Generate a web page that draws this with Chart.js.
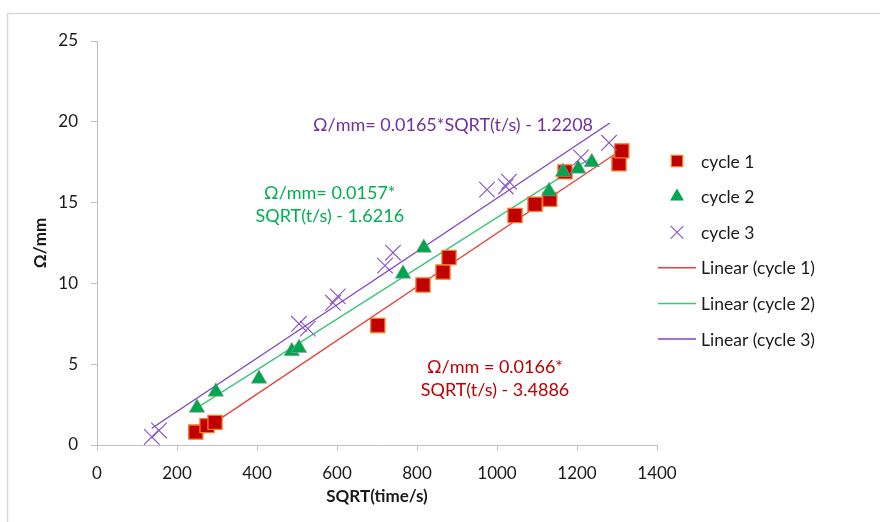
<!DOCTYPE html>
<html>
<head>
<meta charset="utf-8">
<script src="https://cdn.jsdelivr.net/npm/chart.js@4/dist/chart.umd.min.js"></script>
<style>
  html, body { margin: 0; padding: 0; background: #fff; }
  #wrap { width: 880px; height: 522px; }
</style>
</head>
<body>
<div id="wrap"><canvas id="myChart" width="880" height="522"></canvas></div>
<script>
// data
var cycle1X = [247, 275, 295, 702, 815, 865, 880, 1045, 1095, 1132, 1170, 1305, 1312];
var cycle1Y = [0.8, 1.2, 1.4, 7.4, 9.9, 10.7, 11.6, 14.2, 14.9, 15.2, 16.9, 17.4, 18.2];

var cycle2X = [250, 297, 405, 487, 505, 765, 817, 1130, 1165, 1203, 1237];
var cycle2Y = [2.3, 3.3, 4.1, 5.8, 6.0, 10.6, 12.2, 15.7, 16.9, 17.1, 17.5];

var cycle3X = [137, 155, 505, 527, 590, 602, 720, 740, 975, 1022, 1030, 1210, 1280];
var cycle3Y = [0.5, 0.9, 7.5, 7.2, 8.8, 9.2, 11.1, 11.9, 15.8, 16.0, 16.3, 17.8, 18.7];

// trendline end points
var trend1X = [247, 1312];
var trend1Y = [0.61, 18.29];
var trend2X = [250, 1237];
var trend2Y = [2.30, 17.80];
var trend3X = [137, 1282];
var trend3Y = [1.04, 19.93];

var seriesNames = ["cycle 1", "cycle 2", "cycle 3", "Linear (cycle 1)", "Linear (cycle 2)", "Linear (cycle 3)"];
var xTicks = [0, 200, 400, 600, 800, 1000, 1200, 1400];
var yTicks = [0, 5, 10, 15, 20, 25];

var eqText = [
    { x: 890, y: 19.8, lines: ["\u03A9/mm= 0.0165*SQRT(t/s) - 1.2208"], color: "#7030a0" },
    { x: 582, y: 14.85, lines: ["\u03A9/mm= 0.0157*", "SQRT(t/s) - 1.6216"], color: "#00b050" },
    { x: 995, y: 4.1, lines: ["\u03A9/mm = 0.0166*", "SQRT(t/s) - 3.4886"], color: "#c00000" }
];

function pts(xs, ys) {
    return xs.map(function (v, i) { return { x: v, y: ys[i] }; });
}

var FONT = "Lato, 'Open Sans', 'DejaVu Sans', sans-serif";

function drawMarker(ctx, style, x, y, r) {
    ctx.beginPath();
    if (style === 'rect') {
        var s = Math.SQRT1_2 * r;
        ctx.rect(x - s, y - s, 2 * s, 2 * s);
        ctx.fill();
        ctx.stroke();
    } else if (style === 'triangle') {
        ctx.moveTo(x, y - r);
        ctx.lineTo(x + r * 0.866, y + r * 0.5);
        ctx.lineTo(x - r * 0.866, y + r * 0.5);
        ctx.closePath();
        ctx.fill();
    } else if (style === 'crossRot') {
        var c = r * Math.SQRT1_2;
        ctx.moveTo(x - c, y - c); ctx.lineTo(x + c, y + c);
        ctx.moveTo(x - c, y + c); ctx.lineTo(x + c, y - c);
        ctx.stroke();
    }
}

var framePlugin = {
    id: 'frame',
    beforeDraw: function (chart) {
        var ctx = chart.ctx;
        ctx.save();
        ctx.fillStyle = '#fff';
        ctx.fillRect(0, 0, chart.width, chart.height);
        ctx.strokeStyle = '#d9d9d9';
        ctx.lineWidth = 1.5;
        ctx.beginPath();
        ctx.moveTo(7.5, chart.height);
        ctx.lineTo(7.5, 13.5);
        ctx.lineTo(chart.width, 13.5);
        ctx.stroke();
        ctx.restore();
    }
};

var eqPlugin = {
    id: 'equations',
    afterDatasetsDraw: function (chart) {
        var ctx = chart.ctx, xs = chart.scales.x, ys = chart.scales.y;
        ctx.save();
        ctx.font = "18px " + FONT;
        ctx.textAlign = 'center';
        ctx.textBaseline = 'middle';
        eqText.forEach(function (e) {
            var px = xs.getPixelForValue(e.x), py = ys.getPixelForValue(e.y);
            var top = py - (e.lines.length - 1) * 23 / 2;
            ctx.fillStyle = e.color;
            e.lines.forEach(function (t, i) { ctx.fillText(t, px, top + i * 23); });
        });
        ctx.restore();
    }
};

var legendPlugin = {
    id: 'sideLegend',
    afterDraw: function (chart) {
        var ctx = chart.ctx;
        ctx.save();
        ctx.font = "17.5px " + FONT;
        ctx.textAlign = 'left';
        ctx.textBaseline = 'middle';
        chart.data.datasets.forEach(function (ds, i) {
            var y = 161 + i * 35.6;
            if (ds.showLine) {
                ctx.strokeStyle = ds.borderColor;
                ctx.lineWidth = 1.5;
                ctx.beginPath();
                ctx.moveTo(658, y);
                ctx.lineTo(696, y);
                ctx.stroke();
            } else {
                ctx.fillStyle = ds.backgroundColor;
                ctx.strokeStyle = ds.borderColor;
                ctx.lineWidth = ds.borderWidth;
                drawMarker(ctx, ds.pointStyle, 677, y, ds.pointStyle === 'crossRot' ? 9 : 8);
            }
            ctx.fillStyle = '#1a1a1a';
            ctx.fillText(ds.label, 701, y + 1);
        });
        ctx.restore();
    }
};

var ctx = document.getElementById("myChart");
var myChart = new Chart(ctx, {
    type: 'scatter',
    data: {
        datasets: [
            {
                label: seriesNames[0],
                data: pts(cycle1X, cycle1Y),
                pointStyle: 'rect',
                pointRadius: 10,
                backgroundColor: '#c00000',
                borderColor: '#f57a22',
                borderWidth: 1.3,
                order: 3
            },
            {
                label: seriesNames[1],
                data: pts(cycle2X, cycle2Y),
                pointStyle: 'triangle',
                pointRadius: 9,
                backgroundColor: '#00a550',
                borderColor: 'rgba(160,160,160,0.6)',
                borderWidth: 1,
                order: 2
            },
            {
                label: seriesNames[2],
                data: pts(cycle3X, cycle3Y),
                pointStyle: 'crossRot',
                pointRadius: 11,
                backgroundColor: '#8a5ccc',
                borderColor: '#8a5ccc',
                borderWidth: 1.2,
                order: 1
            },
            {
                label: seriesNames[3],
                data: pts(trend1X, trend1Y),
                showLine: true,
                pointRadius: 0,
                borderColor: '#e8403a',
                borderWidth: 1.3,
                order: 4
            },
            {
                label: seriesNames[4],
                data: pts(trend2X, trend2Y),
                showLine: true,
                pointRadius: 0,
                borderColor: '#3cc47a',
                borderWidth: 1.3,
                order: 5
            },
            {
                label: seriesNames[5],
                data: pts(trend3X, trend3Y),
                showLine: true,
                pointRadius: 0,
                borderColor: '#7e44c2',
                borderWidth: 1.3,
                order: 6
            }
        ]
    },
    options: {
        responsive: false,
        animation: false,
        layout: { padding: { left: 0, top: 41, right: 223, bottom: 0 } },
        plugins: {
            legend: { display: false },
            tooltip: { enabled: false }
        },
        scales: {
            x: {
                type: 'linear',
                min: xTicks[0],
                max: xTicks[xTicks.length - 1],
                afterBuildTicks: function (scale) {
                    scale.ticks = xTicks.map(function (v) { return { value: v }; });
                },
                afterFit: function (scale) { scale.height = 77; },
                ticks: {
                    color: '#1a1a1a',
                    font: { family: FONT, size: 17 },
                    padding: 12,
                    maxRotation: 0,
                    callback: function (v) { return String(v); }
                },
                grid: { drawOnChartArea: false, drawTicks: true, tickLength: 6, color: '#bfbfbf' },
                border: { color: '#bfbfbf', width: 1 },
                title: {
                    display: true,
                    text: 'SQRT(time/s)',
                    color: '#1a1a1a',
                    font: { family: FONT, size: 17, weight: 'bold' },
                    padding: { top: 0, bottom: 15 }
                }
            },
            y: {
                type: 'linear',
                min: yTicks[0],
                max: yTicks[yTicks.length - 1],
                afterBuildTicks: function (scale) {
                    scale.ticks = yTicks.map(function (v) { return { value: v }; });
                },
                afterFit: function (scale) { scale.width = 97; },
                ticks: {
                    color: '#1a1a1a',
                    font: { family: FONT, size: 17 },
                    padding: 13,
                    callback: function (v) { return String(v); }
                },
                grid: { drawOnChartArea: false, drawTicks: true, tickLength: 6, color: '#bfbfbf' },
                border: { color: '#bfbfbf', width: 1 },
                title: {
                    display: true,
                    text: '\u03A9/mm',
                    color: '#1a1a1a',
                    font: { family: FONT, size: 17, weight: 'bold' },
                    padding: { top: 30, bottom: 0 }
                }
            }
        }
    },
    plugins: [framePlugin, eqPlugin, legendPlugin]
});
</script>
</body>
</html>
